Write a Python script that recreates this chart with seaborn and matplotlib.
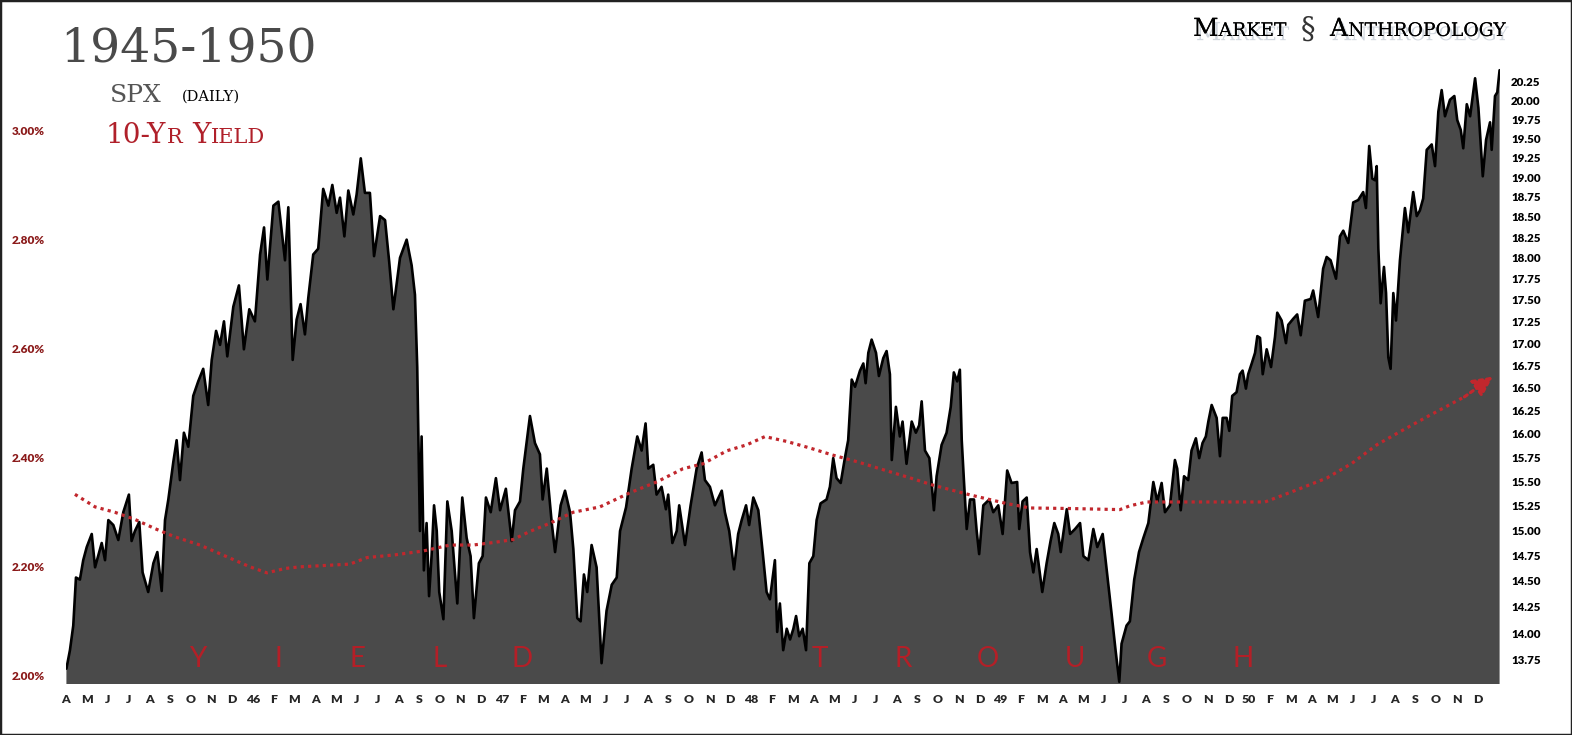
import numpy as np
import pandas as pd
import matplotlib
matplotlib.use("Agg")
import matplotlib.pyplot as plt
import matplotlib.patheffects as pe
from matplotlib.ticker import FixedLocator, NullLocator, FuncFormatter
from matplotlib.patches import Rectangle
import seaborn as sns

# ---------------- data ----------------
# x = months elapsed since the start of April 1945
spx_month = [0.02, 0.19, 0.35, 0.48, 0.67, 0.83, 1.00, 1.24, 1.40, 1.72, 1.88, 2.04, 2.28, 2.52, 2.76, 3.03,
             3.16, 3.32, 3.53, 3.69, 3.96, 4.21, 4.40, 4.61, 4.77, 4.93, 5.17, 5.33, 5.49, 5.68, 5.89, 6.13,
             6.37, 6.61, 6.85, 7.02, 7.23, 7.42, 7.61, 7.77, 8.06, 8.33, 8.57, 8.83, 9.10, 9.35, 9.54, 9.70,
             9.99, 10.23, 10.55, 10.71, 10.92, 11.11, 11.30, 11.51, 11.67, 11.91, 12.15, 12.39, 12.64, 12.83,
             13.04, 13.20, 13.41, 13.60, 13.84, 14.00, 14.20, 14.40, 14.64, 14.84, 15.13, 15.37, 15.57, 15.77,
             16.09, 16.41, 16.65, 16.81, 16.92, 17.05, 17.13, 17.24, 17.37, 17.49, 17.61, 17.73, 17.86, 17.98,
             18.18, 18.37, 18.58, 18.85, 19.09, 19.30, 19.49, 19.65, 19.89, 20.07, 20.23, 20.46, 20.71, 20.91,
             21.19, 21.47, 21.63, 21.87, 22.03, 22.35, 22.59, 22.83, 22.96, 23.16, 23.40, 23.56, 23.83, 24.04,
             24.28, 24.44, 24.63, 24.79, 24.95, 25.11, 25.32, 25.56, 25.80, 26.04, 26.29, 26.53, 26.69, 26.98,
             27.25, 27.52, 27.73, 27.92, 28.05, 28.29, 28.45, 28.69, 28.90, 29.01, 29.21, 29.42, 29.54, 29.82,
             30.09, 30.38, 30.62, 30.78, 31.02, 31.26, 31.59, 31.74, 31.95, 32.18, 32.38, 32.55, 32.76, 32.91,
             33.11, 33.35, 33.56, 33.75, 33.91, 34.15, 34.26, 34.39, 34.55, 34.72, 34.88, 35.04, 35.17, 35.32,
             35.49, 35.65, 35.81, 36.00, 36.16, 36.35, 36.64, 36.80, 36.96, 37.12, 37.32, 37.52, 37.68, 37.85,
             38.01, 38.25, 38.41, 38.52, 38.65, 38.81, 39.02, 39.16, 39.37, 39.53, 39.69, 39.78, 39.98, 40.17,
             40.30, 40.49, 40.74, 40.94, 41.10, 41.22, 41.38, 41.59, 41.70, 41.81, 41.94, 42.18, 42.42, 42.62,
             42.77, 42.93, 43.06, 43.15, 43.26, 43.39, 43.55, 43.74, 43.87, 43.99, 44.19, 44.48, 44.67, 44.91,
             45.12, 45.34, 45.55, 45.82, 45.92, 46.08, 46.28, 46.44, 46.60, 46.76, 47.03, 47.24, 47.43, 47.61,
             47.80, 47.92, 48.04, 48.21, 48.37, 48.61, 48.85, 49.01, 49.25, 49.49, 49.68, 49.94, 50.16, 50.37,
             50.56, 50.74, 50.85, 51.09, 51.25, 51.46, 51.69, 51.90, 52.14, 52.38, 52.57, 52.78, 52.94, 53.18,
             53.42, 53.53, 53.70, 53.86, 54.06, 54.22, 54.43, 54.59, 54.75, 54.91, 55.03, 55.19, 55.43, 55.59,
             55.72, 55.91, 56.04, 56.18, 56.39, 56.55, 56.68, 56.84, 56.95, 57.12, 57.28, 57.39, 57.52, 57.65,
             57.84, 58.05, 58.24, 58.35, 58.56, 58.77, 58.88, 59.12, 59.31, 59.48, 59.68, 59.96, 60.08, 60.32,
             60.56, 60.73, 60.92, 61.18, 61.37, 61.53, 61.77, 62.01, 62.25, 62.49, 62.62, 62.78, 62.93, 63.06,
             63.14, 63.22, 63.33, 63.49, 63.59, 63.70, 63.81, 63.94, 64.07, 64.26, 64.50, 64.66, 64.90, 65.07,
             65.22, 65.38, 65.55, 65.79, 65.95, 66.11, 66.27, 66.43, 66.67, 66.88, 67.02, 67.19, 67.31, 67.48,
             67.64, 67.88, 68.04, 68.15, 68.25, 68.41, 68.60, 68.68, 68.84, 68.95, 69.06]
spx_close = [13.67, 13.84, 14.07, 14.53, 14.51, 14.70, 14.83, 14.96, 14.63, 14.87, 14.70, 15.10, 15.05, 14.90, 15.18, 15.36,
             14.89, 14.99, 15.08, 14.58, 14.39, 14.67, 14.78, 14.40, 15.10, 15.31, 15.70, 15.93, 15.51, 16.01, 15.86, 16.41,
             16.57, 16.71, 16.31, 16.81, 17.14, 16.98, 17.25, 16.85, 17.42, 17.67, 16.93, 17.39, 17.25, 18.04, 18.37, 17.74,
             18.64, 18.69, 17.97, 18.62, 16.81, 17.27, 17.45, 17.10, 17.52, 18.04, 18.11, 18.85, 18.64, 18.90,
             18.55, 18.74, 18.26, 18.83, 18.53, 18.78, 19.24, 18.80, 18.80, 18.02, 18.51, 18.46, 17.95, 17.39,
             18.00, 18.22, 17.91, 17.56, 16.73, 14.99, 15.97, 14.60, 15.07, 14.35, 14.74, 15.25, 14.99, 14.39,
             14.13, 15.29, 14.99, 14.28, 15.33, 14.92, 14.74, 14.14, 14.67, 14.74, 15.33, 15.18, 15.53, 15.20,
             15.42, 14.89, 15.20, 15.29, 15.63, 16.19, 15.90, 15.78, 15.31, 15.63, 15.07, 14.78, 15.25, 15.40,
             15.18, 14.81, 14.14, 14.11, 14.56, 14.39, 14.85, 14.63, 13.72, 14.21, 14.46, 14.53, 14.99, 15.23,
             15.63, 15.97, 15.82, 16.11, 15.63, 15.67, 15.36, 15.44, 15.21, 15.36, 14.87, 14.99, 15.25, 14.85,
             15.25, 15.63, 15.80, 15.51, 15.44, 15.25, 15.40, 15.18, 14.99, 14.61, 14.96, 15.10, 15.25, 15.05,
             15.33, 15.20, 14.78, 14.39, 14.32, 14.70, 14.01, 14.28, 13.84, 14.04, 13.94, 14.04, 14.16, 13.97,
             14.04, 13.84, 14.67, 14.74, 15.10, 15.27, 15.31, 15.44, 15.74, 15.53, 15.48, 15.74, 15.93, 16.59,
             16.51, 16.69, 16.77, 16.55, 16.89, 17.04, 16.89, 16.63, 16.83, 16.91, 16.65, 15.72, 16.29, 15.97,
             16.13, 15.68, 16.13, 16.01, 16.09, 16.35, 15.82, 15.74, 15.48, 15.20, 15.55, 15.88, 16.01, 16.29,
             16.67, 16.57, 16.70, 15.93, 15.49, 15.01, 15.31, 15.31, 14.99, 14.76, 15.25, 15.31, 15.18, 15.25,
             14.96, 15.61, 15.48, 15.49, 15.01, 15.29, 15.33, 14.78, 14.58, 14.81, 14.39, 14.67, 14.89, 15.07,
             14.96, 14.78, 14.96, 15.21, 14.96, 15.01, 15.07, 14.74, 14.70, 15.01, 14.83, 14.96, 14.56, 14.18,
             13.84, 13.55, 13.90, 14.07, 14.11, 14.51, 14.78, 14.92, 15.07, 15.49, 15.29, 15.48, 15.18, 15.25,
             15.72, 15.63, 15.20, 15.55, 15.51, 15.82, 15.95, 15.74, 15.90, 15.97, 16.13, 16.31, 16.17, 15.76,
             16.17, 16.17, 16.03, 16.41, 16.45, 16.65, 16.69, 16.49, 16.65, 16.77, 16.89, 17.08, 17.06, 16.65,
             16.93, 16.73, 17.07, 17.35, 17.26, 17.00, 17.21, 17.28, 17.33, 17.09, 17.49, 17.51, 17.61, 17.30,
             17.87, 18.01, 17.97, 17.75, 18.26, 18.33, 18.18, 18.68, 18.71, 18.81, 18.61, 19.40, 18.98, 18.96,
             19.14, 18.11, 17.46, 17.89, 17.58, 16.84, 16.71, 17.58, 17.26, 17.97, 18.61, 18.31, 18.81, 18.51,
             18.58, 18.73, 19.35, 19.42, 19.14, 19.85, 20.14, 19.79, 20.01, 20.06, 19.74, 19.61, 19.37, 19.95,
             19.79, 20.30, 19.90, 19.42, 19.01, 19.48, 19.71, 19.35, 20.06, 20.11, 20.41]

yield_month = [0.43, 1.40, 2.36, 3.32, 4.29, 5.25, 6.45, 7.66, 8.86, 9.68, 10.55, 11.27, 12.72, 13.68, 14.50,
               15.85, 17.20, 18.50, 19.61, 20.67, 21.53, 22.35, 23.31, 24.42, 25.72, 27.17, 28.47, 29.72,
               30.68, 31.84, 32.80, 33.67, 34.73, 35.84, 36.94, 38.10, 39.21, 40.51, 41.76, 43.55, 45.33,
               46.44, 48.36, 50.77, 51.25, 52.07, 54.14, 56.07, 57.76, 59.21, 60.74, 61.95, 63.15, 64.36,
               65.55, 67.37, 68.74]
yield_pct = [2.333, 2.310, 2.300, 2.287, 2.270, 2.255, 2.240, 2.220, 2.200, 2.189, 2.197, 2.200, 2.203, 2.205,
             2.217, 2.222, 2.229, 2.240, 2.240, 2.245, 2.250, 2.265, 2.280, 2.300, 2.310, 2.336, 2.356, 2.380,
             2.389, 2.413, 2.424, 2.439, 2.430, 2.418, 2.405, 2.393, 2.380, 2.365, 2.350, 2.332, 2.316,
             2.308, 2.307, 2.305, 2.312, 2.319, 2.319, 2.319, 2.319, 2.340, 2.363, 2.390, 2.424, 2.450,
             2.475, 2.512, 2.549]

month_labels = ["A", "M", "J", "J", "A", "S", "O", "N", "D",
                "46", "F", "M", "A", "M", "J", "J", "A", "S", "O", "N", "D",
                "47", "F", "M", "A", "M", "J", "J", "A", "S", "O", "N", "D",
                "48", "F", "M", "A", "M", "J", "J", "A", "S", "O", "N", "D",
                "49", "F", "M", "A", "M", "J", "J", "A", "S", "O", "N", "D",
                "50", "F", "M", "A", "M", "J", "J", "A", "S", "O", "N", "D"]
spx_ticks = [13.75, 14.00, 14.25, 14.50, 14.75, 15.00, 15.25, 15.50, 15.75, 16.00, 16.25, 16.50, 16.75,
             17.00, 17.25, 17.50, 17.75, 18.00, 18.25, 18.50, 18.75, 19.00, 19.25, 19.50, 19.75, 20.00, 20.25]
yield_ticks = [2.00, 2.20, 2.40, 2.60, 2.80, 3.00]
banner_letters = ["Y", "I", "E", "L", "D", "T", "R", "O", "U", "G", "H"]

# ---------------- figure ----------------
W, H = 1572, 735
sns.set_style("white")
plt.rcParams['font.family'] = ['DejaVu Sans']
fig = plt.figure(figsize=(W / 100, H / 100), dpi=100)

ax_l, ax_r, ax_t, ax_b = 66, 1500, 60, 684
ax = fig.add_axes([ax_l / W, 1 - ax_b / H, (ax_r - ax_l) / W, (ax_b - ax_t) / H])
ay = ax.twinx()   # yield axis, drawn on top of the SPX area

spx_df = pd.DataFrame({"m": spx_month, "spx": spx_close})
yld_df = pd.DataFrame({"m": yield_month, "y": yield_pct})

# --- SPX (right axis, log scale) ---
ax.set_yscale("log")
ax.set_ylim(13.53, 20.55)
ax.set_xlim(0, 69.08)
ax.fill_between(spx_df["m"], spx_df["spx"], 10, color="#4a4a4a", lw=0, zorder=1)
sns.lineplot(data=spx_df, x="m", y="spx", ax=ax, color="black", lw=1.9, sort=False,
             estimator=None, zorder=2)
ax.yaxis.set_major_locator(FixedLocator(spx_ticks))
ax.yaxis.set_minor_locator(NullLocator())
ax.yaxis.set_major_formatter(FuncFormatter(lambda v, p: f"{v:.2f}"))
ax.yaxis.tick_right()
ax.tick_params(axis="y", which="both", length=0, pad=8, labelsize=8.3, labelcolor="black",
               left=False, labelleft=False, right=True, labelright=True)
for lab in ax.get_yticklabels():
    lab.set_fontfamily("Lato")
    lab.set_fontweight("heavy")

ax.set_xticks(range(len(month_labels)))
ax.set_xticklabels(month_labels, fontfamily="Lato", fontweight="heavy", fontsize=8.8)
ax.tick_params(axis="x", length=0, pad=7)
ax.set_xlabel("")
ax.set_ylabel("")
for s in ax.spines.values():
    s.set_visible(False)

# --- 10-yr yield (left axis) ---
ay.set_ylim(1.985, 3.130)
red = "#c1272d"
sns.lineplot(data=yld_df.iloc[:-1], x="m", y="y", ax=ay, color=red, lw=2.3,
             linestyle=(0, (1, 1.3)), sort=False, estimator=None)
ay.annotate("", xy=(yield_month[-1], yield_pct[-1]), xytext=(yield_month[-2], yield_pct[-2]),
            arrowprops=dict(arrowstyle="-|>,head_length=0.9,head_width=0.45", color=red,
                            lw=2.3, ls=(0, (1, 1.3)), shrinkA=0, shrinkB=0, mutation_scale=13))
ay.yaxis.tick_left()
ay.set_yticks(yield_ticks)
ay.set_yticklabels([f"{v:.2f}%" for v in yield_ticks], fontfamily="Lato", fontweight="heavy",
                   fontsize=8.5, color="#8b1a1a")
ay.tick_params(axis="y", length=0, pad=15, left=True, right=False, labelleft=True, labelright=False)
ay.set_xlim(0, 69.08)
ay.set_xlabel("")
ay.set_ylabel("")
for s in ay.spines.values():
    s.set_visible(False)

# banner letters inside the fill
banner_x = [198, 278, 358, 440, 522, 820, 903, 988, 1075, 1157, 1243]
for ch, xp in zip(banner_letters, banner_x):
    fig.text(xp / W, 1 - 667 / H, ch, fontsize=20, color="#b41f27", family="Lato",
             ha="center", va="baseline", zorder=10)

# ---------------- headings ----------------
renderer = fig.canvas.get_renderer()


def pieces_text(x_px, y_px, pieces, color, family="DejaVu Serif", effects=None):
    x = x_px
    for s, size, gap in pieces:
        t = fig.text(x / W, 1 - y_px / H, s, fontsize=size, color=color, family=family,
                     ha="left", va="baseline", path_effects=effects)
        bb = t.get_window_extent(renderer=renderer)
        x = bb.x1 + gap
    return x


fig.text(60 / W, 1 - 62 / H, "1945-1950", fontsize=34, color="#4a4a4a", family="DejaVu Serif",
         ha="left", va="baseline")
pieces_text(110, 102, [("SPX", 18, 7)], "#555555")
pieces_text(182, 101, [("(DAILY)", 10.5, 0)], "black")
pieces_text(106, 143, [("10-Y", 20, 0), ("R", 15, 10), ("Y", 20, 0), ("IELD", 15, 0)], "#b0202a")

shadow = [pe.withSimplePatchShadow(offset=(2, -3), shadow_rgbFace="#7a8aa0", alpha=0.35), pe.Normal()]
xe = pieces_text(1193, 36, [("M", 18, 0), ("ARKET", 13.5, 14)], "black", effects=shadow)
pieces_text(xe, 38, [("§", 21, 8)], "#333333")
pieces_text(1330, 36, [("A", 18, 0), ("NTHROPOLOGY", 13.5, 0)], "black", effects=shadow)

fig.add_artist(Rectangle((0, 0), 1, 1, transform=fig.transFigure, fill=False, lw=2.5, ec="#222222"))

fig.savefig("out.png", dpi=100)
